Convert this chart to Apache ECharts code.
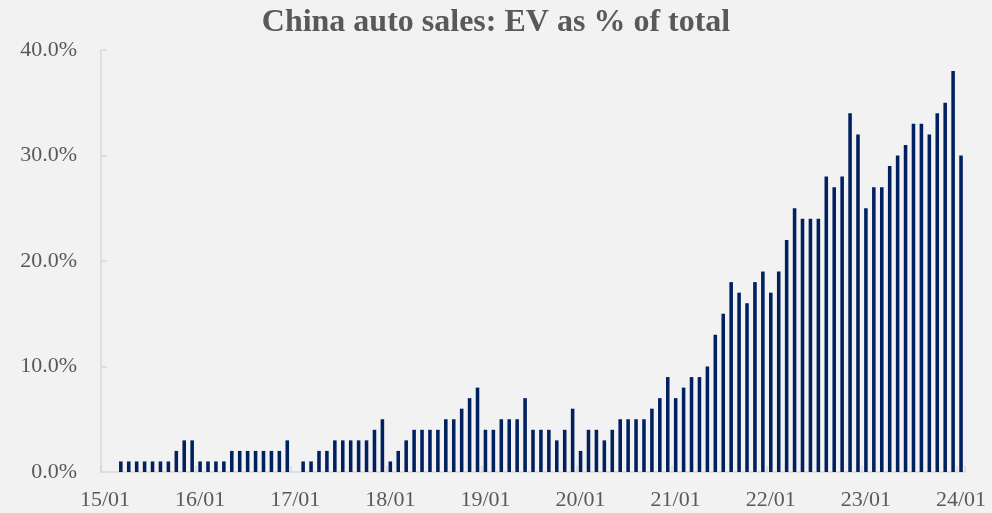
<!DOCTYPE html>
<html>
<head>
<meta charset="utf-8">
<title>China auto sales: EV as % of total</title>
<script src="https://cdn.jsdelivr.net/npm/echarts@6/dist/echarts.min.js"></script>
<style>
  html, body { margin: 0; padding: 0; background: #f2f2f2; }
  #chart { width: 992px; height: 513px; }
</style>
</head>
<body>
<div id="chart"></div>
<script>
// Monthly categories, 15/01 through 24/01
const years = ['15', '16', '17', '18', '19', '20', '21', '22', '23', '24'];
const months = ['01', '02', '03', '04', '05', '06', '07', '08', '09', '10', '11', '12'];

// EV share of total auto sales, percent, one array per year
const ev2015 = [null, null, 1, 1, 1, 1, 1, 1, 1, 2, 3, 3];
const ev2016 = [1, 1, 1, 1, 2, 2, 2, 2, 2, 2, 2, 3];
const ev2017 = [0, 1, 1, 2, 2, 3, 3, 3, 3, 3, 4, 5];
const ev2018 = [1, 2, 3, 4, 4, 4, 4, 5, 5, 6, 7, 8];
const ev2019 = [4, 4, 5, 5, 5, 7, 4, 4, 4, 3, 4, 6];
const ev2020 = [2, 4, 4, 3, 4, 5, 5, 5, 5, 6, 7, 9];
const ev2021 = [7, 8, 9, 9, 10, 13, 15, 18, 17, 16, 18, 19];
const ev2022 = [17, 19, 22, 25, 24, 24, 24, 28, 27, 28, 34, 32];
const ev2023 = [25, 27, 27, 29, 30, 31, 33, 33, 32, 34, 35, 38];
const ev2024 = [30];

// Y-axis range and tick step (percent)
const yMin = 0;
const yMax = 40;
const yStep = 10;

const evShare = [].concat(ev2015, ev2016, ev2017, ev2018, ev2019,
                          ev2020, ev2021, ev2022, ev2023, ev2024);
const categories = [];
years.forEach(function (y) {
  months.forEach(function (m) {
    if (categories.length < evShare.length) categories.push(y + '/' + m);
  });
});

const textColor = '#595959';
const axisColor = '#d9d9d9';
const serif = '"Liberation Serif", "Times New Roman", serif';

const chart = echarts.init(document.getElementById('chart'), null, { renderer: 'canvas' });
chart.setOption({
  backgroundColor: '#f2f2f2',
  animation: false,
  title: {
    text: 'China auto sales: EV as % of total',
    left: 'center',
    top: 2,
    textStyle: {
      fontFamily: serif,
      fontWeight: 'bold',
      fontSize: 32,
      color: textColor
    }
  },
  grid: { left: 101, right: 27, top: 50, bottom: 41, containLabel: false },
  xAxis: {
    type: 'category',
    data: categories,
    boundaryGap: true,
    axisLine: { show: true, lineStyle: { color: axisColor, width: 1.5 } },
    axisTick: { show: true, inside: true, length: 6, interval: 11,
                lineStyle: { color: axisColor, width: 1.5 } },
    axisLabel: {
      interval: 11,
      margin: 17,
      fontFamily: serif,
      fontSize: 22,
      color: textColor
    },
    splitLine: { show: false }
  },
  yAxis: {
    type: 'value',
    min: yMin,
    max: yMax,
    interval: yStep,
    axisLine: { show: true, lineStyle: { color: axisColor, width: 1.5 } },
    axisTick: { show: true, inside: true, length: 6,
                lineStyle: { color: axisColor, width: 1.5 } },
    axisLabel: {
      margin: 24,
      fontFamily: serif,
      fontSize: 22,
      color: textColor,
      formatter: function (v) { return v.toFixed(1) + '%'; }
    },
    splitLine: { show: false }
  },
  series: [{
    name: 'EV share',
    type: 'bar',
    data: evShare,
    barWidth: '45%',
    itemStyle: { color: '#002060' }
  }]
});
</script>
</body>
</html>
